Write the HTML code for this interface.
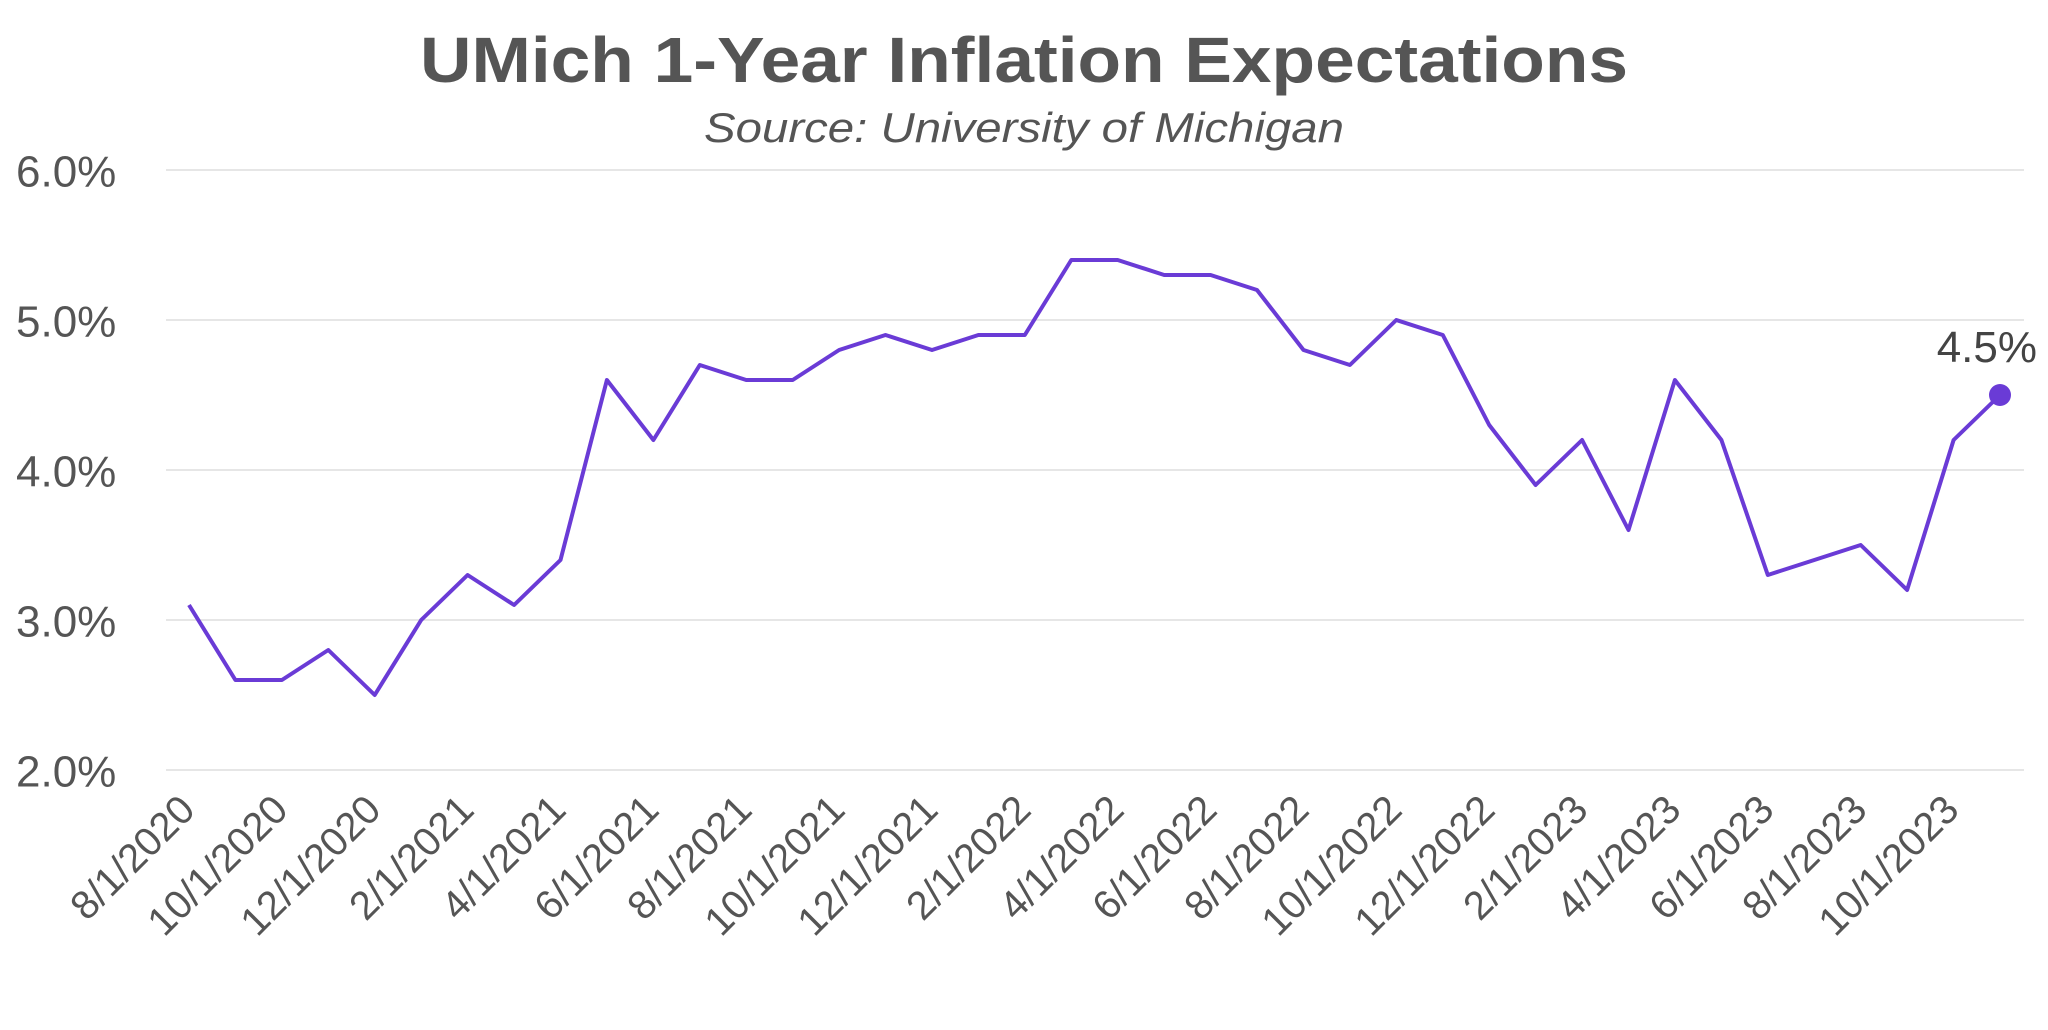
<!DOCTYPE html>
<html><head><meta charset="utf-8"><style>html,body{margin:0;padding:0;background:#fff}svg{display:block}</style></head>
<body>
<svg width="2048" height="1030" xmlns="http://www.w3.org/2000/svg" font-family="Liberation Sans, sans-serif">
<text x="1024" y="82" text-anchor="middle" font-size="64" font-weight="bold" fill="#555" textLength="1208" lengthAdjust="spacingAndGlyphs">UMich 1-Year Inflation Expectations</text>
<text x="1024" y="142" text-anchor="middle" font-size="42" font-style="italic" fill="#555" textLength="640" lengthAdjust="spacingAndGlyphs">Source: University of Michigan</text>
<g stroke="#ddd" stroke-width="1.5">
<line x1="166" x2="2024" y1="170" y2="170"/><line x1="166" x2="2024" y1="320" y2="320"/><line x1="166" x2="2024" y1="470" y2="470"/><line x1="166" x2="2024" y1="620" y2="620"/><line x1="166" x2="2024" y1="770" y2="770"/>
</g>
<g font-size="44" fill="#555" dominant-baseline="central">
<text x="16" y="172">6.0%</text><text x="16" y="322">5.0%</text><text x="16" y="472">4.0%</text><text x="16" y="622">3.0%</text><text x="16" y="772">2.0%</text>
</g>
<g font-size="40" fill="#555" text-anchor="end">
<text transform="translate(197,812) rotate(-45)">8/1/2020</text>
<text transform="translate(290,812) rotate(-45)">10/1/2020</text>
<text transform="translate(383,812) rotate(-45)">12/1/2020</text>
<text transform="translate(476,812) rotate(-45)">2/1/2021</text>
<text transform="translate(568,812) rotate(-45)">4/1/2021</text>
<text transform="translate(661,812) rotate(-45)">6/1/2021</text>
<text transform="translate(754,812) rotate(-45)">8/1/2021</text>
<text transform="translate(847,812) rotate(-45)">10/1/2021</text>
<text transform="translate(940,812) rotate(-45)">12/1/2021</text>
<text transform="translate(1033,812) rotate(-45)">2/1/2022</text>
<text transform="translate(1126,812) rotate(-45)">4/1/2022</text>
<text transform="translate(1219,812) rotate(-45)">6/1/2022</text>
<text transform="translate(1311,812) rotate(-45)">8/1/2022</text>
<text transform="translate(1404,812) rotate(-45)">10/1/2022</text>
<text transform="translate(1497,812) rotate(-45)">12/1/2022</text>
<text transform="translate(1590,812) rotate(-45)">2/1/2023</text>
<text transform="translate(1683,812) rotate(-45)">4/1/2023</text>
<text transform="translate(1776,812) rotate(-45)">6/1/2023</text>
<text transform="translate(1869,812) rotate(-45)">8/1/2023</text>
<text transform="translate(1961,812) rotate(-45)">10/1/2023</text>
</g>
<polyline id="ln" fill="none" stroke="#6a3bd6" stroke-width="4" stroke-linejoin="round"/>
<circle cx="2000" cy="395" r="11" fill="#6a3bd6"/>
<text x="2037" y="362" text-anchor="end" font-size="44" fill="#444">4.5%</text>
<script>
var d=[3.1,2.6,2.6,2.8,2.5,3.0,3.3,3.1,3.4,4.6,4.2,4.7,4.6,4.6,4.8,4.9,4.8,4.9,4.9,5.4,5.4,5.3,5.3,5.2,4.8,4.7,5.0,4.9,4.3,3.9,4.2,3.6,4.6,4.2,3.3,3.4,3.5,3.2,4.2,4.5];
var X=i=>189+i*(1811/39),Y=v=>170+(6-v)*150;
document.getElementById('ln').setAttribute('points',d.map((v,i)=>X(i).toFixed(1)+','+Y(v).toFixed(1)).join(' '));
</script>
</svg>
</body></html>
